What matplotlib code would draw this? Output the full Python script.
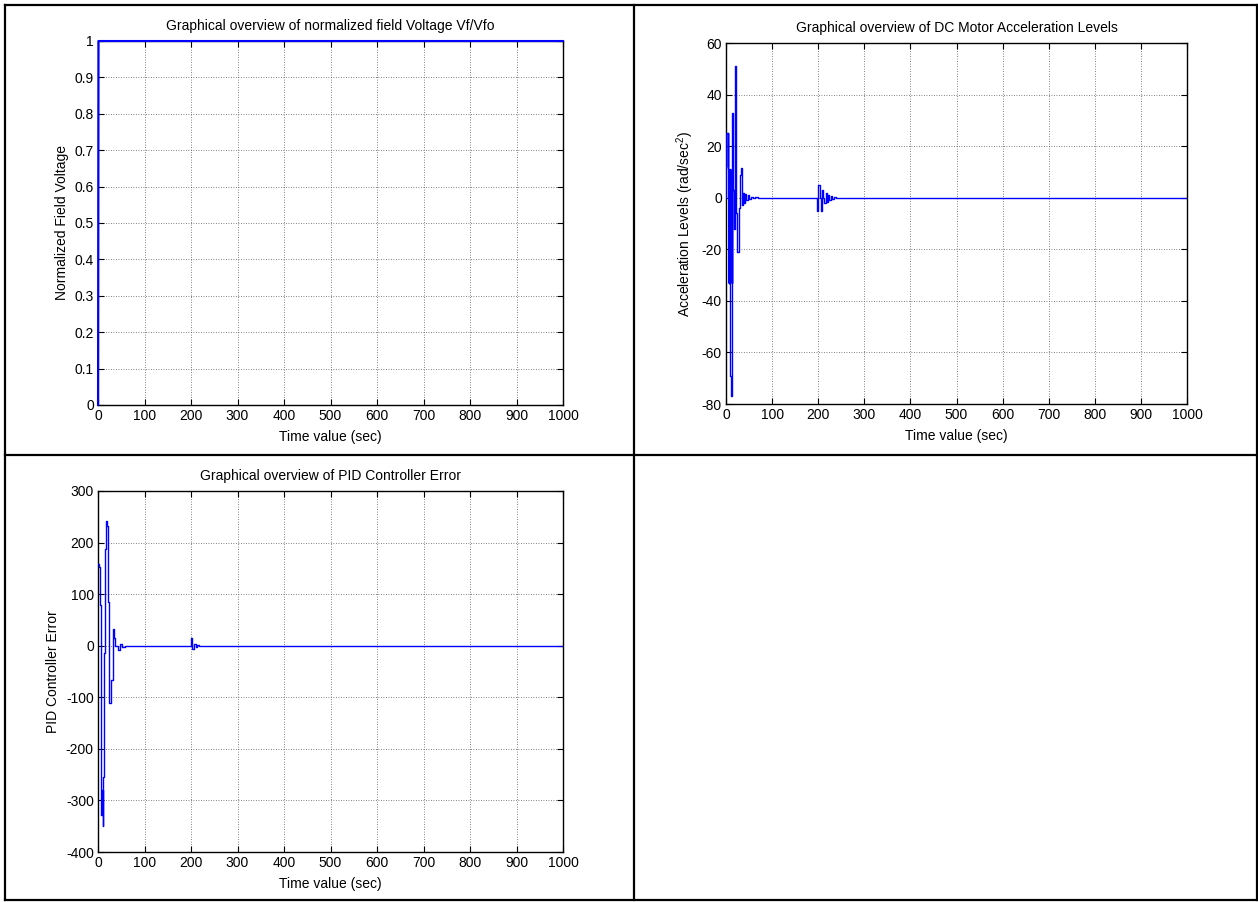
import matplotlib
matplotlib.use("Agg")
import matplotlib.pyplot as plt
from matplotlib.lines import Line2D
import numpy as np

plt.rcParams['font.family'] = ['Liberation Sans', 'DejaVu Sans']
plt.rcParams['font.size'] = 10
plt.rcParams['axes.unicode_minus'] = False
plt.rcParams['mathtext.fontset'] = 'custom'
plt.rcParams['mathtext.rm'] = 'Liberation Sans'

# ---- data -------------------------------------------------------------
# normalized field voltage Vf/Vfo (step at start of run)
volt_t = [0, 1, 1000]
volt_v = [0, 1, 1]

# DC motor acceleration (rad/sec^2), sample-and-hold values
accel_t = [0, 0.3, 3.5, 4.0, 5.0, 5.5, 6.0, 6.5, 7.0, 7.5, 8.0, 8.7, 10.5,
           12.3, 12.8, 13.3, 13.8, 16.0, 17.5, 18.5, 22.5, 23.2, 28.0, 29.5,
           31.0, 33.0, 35.5, 37.0, 39.0, 41.0, 44.0, 47.0, 50.0, 54.0, 58.0,
           63.0, 70.0,
           198.0, 200.5, 203.5, 206.5, 209.0, 211.0, 213.5, 216.0, 218.5,
           221.0, 224.0, 227.0, 230.0, 234.0, 238.0, 1000.0]
accel_v = [0, 25, 12, 25, 11, -33, 11, -33, 11, -33, 11, -69, -77,
           -33, 11, -33, 33, 3, -12, 51, -6, -21, -4, 5,
           9, 11.5, -3, 2, -2, 1.5, -1, 1, -0.6, 0.4, -0.2,
           0.1, 0,
           -5, 5, 0, -5, 3, 0, -2, 2, -1.5,
           1, -1, 0.6, -0.4, 0.2, 0, 0]

# PID controller error
pid_t = [0, 2, 4, 5.5, 7, 8.5, 10, 11.3, 12.5, 14, 15.5, 17, 20, 22, 22.7,
         23.5, 27.5, 31.5, 34, 37.5, 42, 47, 52, 57,
         199, 202, 207, 210, 213, 217, 221, 226, 1000]
pid_v = [158, 152, 78, -117, -328, -280, -349, -255, -15, 100, 187, 241, 232,
         84, -66, -111, -66, 33, 14, 0, -8, 4, -2, 0,
         14, -6, 3, -2, 1, -0.5, 0.3, 0, 0]

x_ticks = np.arange(0, 1001, 100)

# ---- figure -----------------------------------------------------------
W, H = 1258, 902
fig = plt.figure(figsize=(W / 100, H / 100), dpi=100)
fig.patch.set_facecolor('white')


def px_axes(left, top, right, bottom):
    return fig.add_axes([left / W, 1 - bottom / H,
                         (right - left) / W, (bottom - top) / H])


def style(ax, yticks, title, ylabel):
    ax.set_xlim(0, 1000)
    ax.set_xticks(x_ticks)
    ax.set_ylim(yticks[0], yticks[-1])
    ax.set_yticks(yticks)
    ax.grid(True, color='0.35', linestyle=(0, (1, 2)), linewidth=0.6)
    ax.tick_params(direction='in', length=4, width=0.8, top=True,
                   right=True, labelsize=10, pad=3)
    for s in ax.spines.values():
        s.set_linewidth(1.0)
    ax.set_title(title, fontsize=10, pad=8)
    ax.set_xlabel('Time value (sec)', fontsize=10, labelpad=5)
    ax.set_ylabel(ylabel, fontsize=10, labelpad=4)


ax1 = px_axes(98, 41, 563, 405)
ax1.plot(volt_t, volt_v, color='#0000ff', linewidth=1.5, clip_on=False,
         zorder=5)
style(ax1, np.round(np.arange(0, 1.01, 0.1), 1),
      'Graphical overview of normalized field Voltage Vf/Vfo',
      'Normalized Field Voltage')
ax1.set_yticklabels(['0', '0.1', '0.2', '0.3', '0.4', '0.5', '0.6',
                     '0.7', '0.8', '0.9', '1'])

ax2 = px_axes(726, 43, 1187, 404)
ax2.plot(accel_t, accel_v, color='#0000ff', linewidth=1.0,
         drawstyle='steps-post', zorder=5)
style(ax2, np.arange(-80, 61, 20),
      'Graphical overview of DC Motor Acceleration Levels',
      'Acceleration Levels (rad/sec$^2$)')

ax3 = px_axes(98, 491, 563, 852)
ax3.plot(pid_t, pid_v, color='#0000ff', linewidth=1.0,
         drawstyle='steps-post', zorder=5)
style(ax3, np.arange(-400, 301, 100),
      'Graphical overview of PID Controller Error',
      'PID Controller Error')

# ---- table frame around the panels -------------------------------------
def frame_line(x0, y0, x1, y1):
    fig.add_artist(Line2D([x0 / W, x1 / W], [1 - y0 / H, 1 - y1 / H],
                          color='black', linewidth=1.6,
                          transform=fig.transFigure))

frame_line(5, 5, 1257, 5)
frame_line(5, 900, 1257, 900)
frame_line(5, 5, 5, 900)
frame_line(1257, 5, 1257, 900)
frame_line(634, 5, 634, 900)
frame_line(5, 455, 1257, 455)

fig.savefig('out.png', dpi=100, facecolor='white')
